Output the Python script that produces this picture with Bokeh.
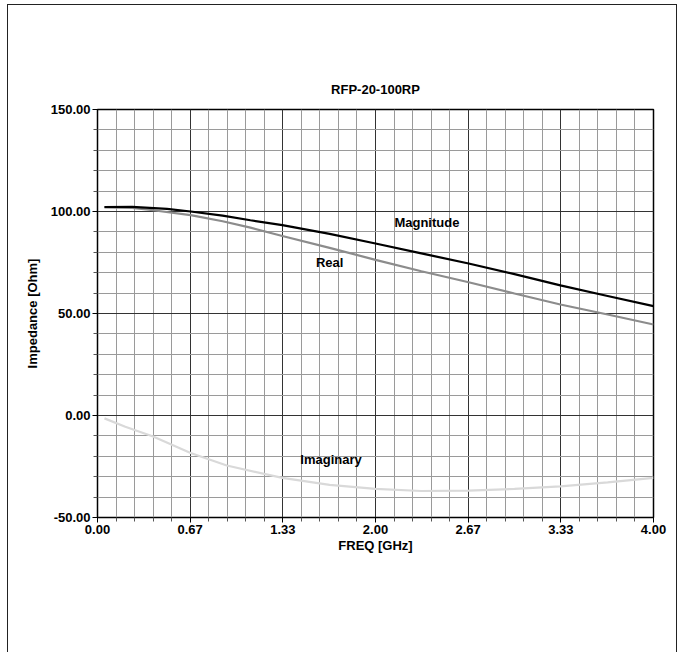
from bokeh.plotting import figure
from bokeh.models import FixedTicker, PrintfTickFormatter, Range1d, Label, Title
from bokeh.embed import file_html
from bokeh.resources import INLINE

TITLE = "RFP-20-100RP"
X_LABEL = "FREQ [GHz]"
Y_LABEL = "Impedance [Ohm]"

x_ticks = [0.0, 2/3, 4/3, 2.0, 8/3, 10/3, 4.0]
y_ticks = [-50, 0, 50, 100, 150]

mag_freq = [0.05, 0.25, 0.5, 0.67, 0.9, 1.1, 1.33, 1.67, 2.0, 2.33, 2.67, 3.0, 3.33, 3.67, 4.0]
mag_vals = [102.2, 102.3, 101.3, 100.0, 98.0, 95.7, 93.3, 89.0, 84.3, 79.5, 74.5, 69.3, 63.8, 58.6, 53.6]

real_freq = [0.05, 0.25, 0.4, 0.67, 0.9, 1.1, 1.33, 1.67, 2.0, 2.33, 2.67, 3.0, 3.33, 3.67, 4.0]
real_vals = [102.0, 101.8, 100.6, 98.2, 95.2, 92.1, 88.0, 82.2, 76.3, 70.7, 65.3, 59.8, 54.4, 49.5, 44.6]

imag_freq = [0.05, 0.2, 0.4, 0.67, 0.93, 1.33, 1.67, 2.0, 2.33, 2.67, 3.0, 3.33, 3.67, 4.0]
imag_vals = [-1.4, -5.5, -10.3, -18.4, -24.5, -30.6, -34.0, -36.0, -37.0, -36.8, -36.0, -34.7, -32.8, -30.6]

series_names = ["Magnitude", "Real", "Imaginary"]

FONT = "Liberation Sans"

p = figure(width=670, height=648, output_backend="svg", toolbar_location=None,
           x_range=Range1d(0, 4), y_range=Range1d(-50, 150), title=None,
           min_border_left=89, min_border_right=25, min_border_top=104, min_border_bottom=136,
           styles={"margin-left": "7px", "margin-top": "4px",
                   "border-left": "1px solid #222", "border-top": "1px solid #222",
                   "border-right": "1px solid #222", "box-sizing": "border-box"})

# spacer title (closest to the frame) then the real title above it
p.add_layout(Title(text=" ", text_font_size="6px", standoff=0), "above")
p.add_layout(Title(text=TITLE, align="center", text_font=FONT, text_font_size="13px",
                   text_font_style="bold", text_color="#000000"), "above")

x_minor = [i * 4 / 30 for i in range(31) if i % 5 != 0]
y_minor = [-50 + 10 * i for i in range(21) if i % 5 != 0]
p.xaxis.ticker = FixedTicker(ticks=x_ticks, minor_ticks=x_minor)
p.yaxis.ticker = FixedTicker(ticks=y_ticks, minor_ticks=y_minor)
p.xaxis.formatter = PrintfTickFormatter(format="%.2f")
p.yaxis.formatter = PrintfTickFormatter(format="%.2f")

for ax in (p.xaxis[0], p.yaxis[0]):
    ax.major_label_text_font = FONT
    ax.major_label_text_font_size = "13px"
    ax.major_label_text_font_style = "bold"
    ax.major_label_text_color = "#000000"
    ax.axis_label_text_font = FONT
    ax.axis_label_text_font_size = "13px"
    ax.axis_label_text_font_style = "bold"
    ax.axis_label_text_color = "#000000"
    ax.axis_line_color = "#000000"
    ax.major_tick_line_color = "#000000"
    ax.minor_tick_line_color = "#555555"
    ax.major_tick_in = 0
    ax.major_tick_out = 5
    ax.minor_tick_in = 0
    ax.minor_tick_out = 4
    ax.major_label_standoff = 2

p.xaxis.axis_label = X_LABEL
p.yaxis.axis_label = Y_LABEL
p.xaxis.axis_label_standoff = 1
p.yaxis.axis_label_standoff = 8

for g in (p.xgrid[0], p.ygrid[0]):
    g.grid_line_color = "#333333"
    g.grid_line_width = 1
    g.minor_grid_line_color = "#9a9a9a"
    g.minor_grid_line_width = 1

p.outline_line_color = "#000000"
p.outline_line_width = 1.5

p.line(imag_freq, imag_vals, line_color="#d9d9d9", line_width=2.2)
p.line(real_freq, real_vals, line_color="#8c8c8c", line_width=2.2)
p.line(mag_freq, mag_vals, line_color="#000000", line_width=2.2)

label_pos = [(2.37, 94.4), (1.67, 74.9), (1.68, -21.7)]
for name, (lx, ly) in zip(series_names, label_pos):
    p.add_layout(Label(x=lx, y=ly, text=name, text_font=FONT, text_font_size="13px",
                       text_font_style="bold", text_align="center", text_baseline="middle",
                       text_color="#000000"))

open("out.html", "w").write(file_html(p, INLINE))
